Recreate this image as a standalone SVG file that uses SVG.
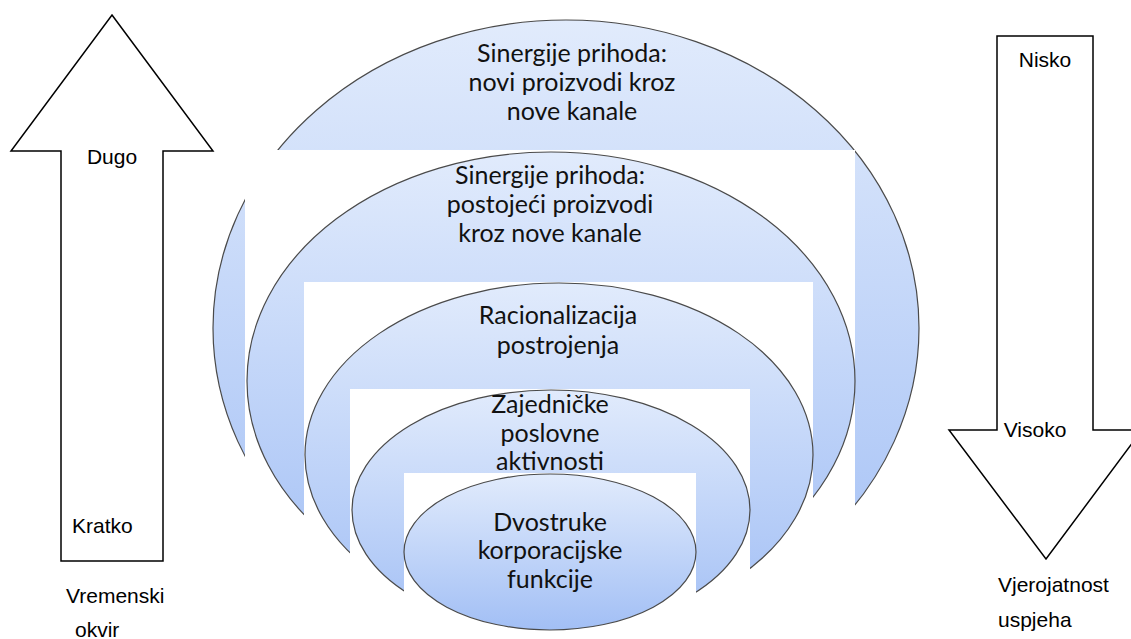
<svg xmlns="http://www.w3.org/2000/svg" width="1131" height="639" viewBox="0 0 1131 639">
  <defs>
    <linearGradient id="blueGrad" x1="0" y1="0" x2="0" y2="1">
      <stop offset="0" stop-color="#e1ebfc"/>
      <stop offset="1" stop-color="#a2bff5"/>
    </linearGradient>
    <style>
      .ell { fill: url(#blueGrad); stroke: #4a4a4a; stroke-width: 1.2; }
      .mask { fill: #ffffff; stroke: none; }
      .lbl { font-family: Lato, "Liberation Sans", sans-serif; font-size: 25px; fill: #111111; text-anchor: middle; }
      .arrow { fill: #ffffff; stroke: #000000; stroke-width: 1.5; stroke-linejoin: miter; }
      .atxt { font-family: "Liberation Sans", Arial, sans-serif; font-size: 21px; fill: #000000; }
    </style>
  </defs>
  <rect x="0" y="0" width="1131" height="639" fill="#ffffff"/>

  <g id="connectors"/>

  <g id="node-novi-proizvodi">
    <ellipse class="ell" cx="566" cy="328" rx="353" ry="308"/>
    <text class="lbl" x="572" y="62">Sinergije prihoda:</text>
    <text class="lbl" x="572" y="91">novi proizvodi kroz</text>
    <text class="lbl" x="572" y="120">nove kanale</text>
  </g>

  <g id="node-postojeci-proizvodi">
    <rect class="mask" x="245" y="150" width="610" height="489"/>
    <ellipse class="ell" cx="551" cy="381" rx="304" ry="229"/>
    <text class="lbl" x="550" y="184">Sinergije prihoda:</text>
    <text class="lbl" x="550" y="213">postojeći proizvodi</text>
    <text class="lbl" x="550" y="242">kroz nove kanale</text>
  </g>

  <g id="node-racionalizacija">
    <rect class="mask" x="304" y="282" width="509" height="357"/>
    <ellipse class="ell" cx="559" cy="455" rx="254" ry="172"/>
    <text class="lbl" x="558" y="324">Racionalizacija</text>
    <text class="lbl" x="558" y="354">postrojenja</text>
  </g>

  <g id="node-zajednicke">
    <rect class="mask" x="350" y="389" width="400" height="250"/>
    <ellipse class="ell" cx="551" cy="510" rx="199" ry="120"/>
    <text class="lbl" x="550" y="413">Zajedničke</text>
    <text class="lbl" x="550" y="442">poslovne</text>
    <text class="lbl" x="550" y="470">aktivnosti</text>
  </g>

  <g id="node-dvostruke">
    <rect class="mask" x="404" y="473" width="292" height="166"/>
    <ellipse class="ell" cx="550" cy="552" rx="146" ry="78"/>
    <text class="lbl" x="550" y="531">Dvostruke</text>
    <text class="lbl" x="550" y="559">korporacijske</text>
    <text class="lbl" x="550" y="588">funkcije</text>
  </g>

  <g id="arrow-vremenski-okvir">
    <polygon class="arrow" points="112,15 213,151 163,151 163,561 61,561 61,151 11,151"/>
    <text class="atxt" x="112" y="164" text-anchor="middle">Dugo</text>
    <text class="atxt" x="72" y="533">Kratko</text>
    <text class="atxt" x="66" y="603">Vremenski</text>
    <text class="atxt" x="75" y="637">okvir</text>
  </g>

  <g id="arrow-vjerojatnost">
    <polygon class="arrow" points="997,36 1093,36 1093,430 1142,430 1046,559 949,430 997,430"/>
    <text class="atxt" x="1045" y="67" text-anchor="middle">Nisko</text>
    <text class="atxt" x="1035" y="437" text-anchor="middle">Visoko</text>
    <text class="atxt" x="998" y="592">Vjerojatnost</text>
    <text class="atxt" x="998" y="627">uspjeha</text>
  </g>
</svg>
